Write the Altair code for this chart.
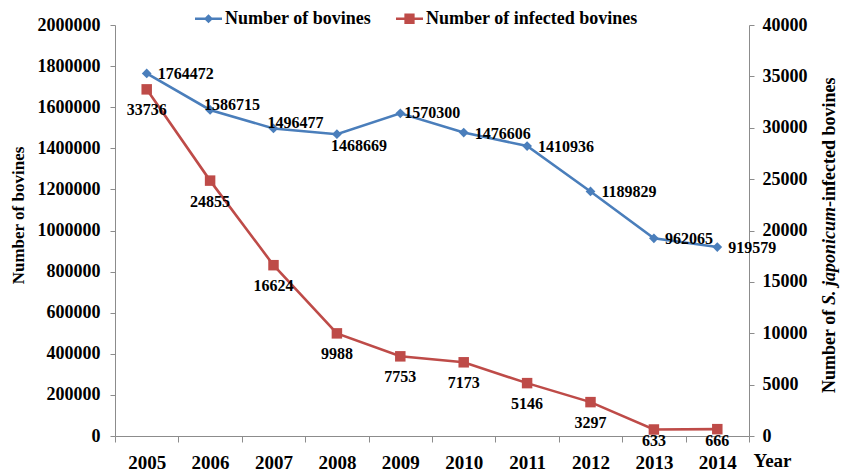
import altair as alt
import pandas as pd

years = [2005, 2006, 2007, 2008, 2009, 2010, 2011, 2012, 2013, 2014]
bovines = [1764472, 1586715, 1496477, 1468669, 1570300, 1476606, 1410936, 1189829, 962065, 919579]
infected = [33736, 24855, 16624, 9988, 7753, 7173, 5146, 3297, 633, 666]
series_names = ["Number of bovines", "Number of infected bovines"]
left_ticks = [0, 200000, 400000, 600000, 800000, 1000000, 1200000, 1400000, 1600000, 1800000, 2000000]
right_ticks = [0, 5000, 10000, 15000, 20000, 25000, 30000, 35000, 40000]

BLUE = "#4A7EBB"
RED = "#BE4B48"
GRAY = "#8C8C8C"
FONT = "Liberation Serif"

df = pd.DataFrame({"year": years, "bovines": bovines, "infected": infected})

x_enc = alt.X(
    "year:O",
    title="Year",
    bandPosition=0.5,
    scale=alt.Scale(type="band", paddingInner=0, paddingOuter=0),
    axis=alt.Axis(
        labelAngle=0, tickBand="extent", grid=False,
        domainColor=GRAY, tickColor=GRAY, tickSize=6, labelPadding=11,
        labelFont=FONT, labelFontSize=19, labelFontWeight="bold", labelColor="black",
        titleFont=FONT, titleFontSize=19, titleFontWeight="bold", titleColor="black",
        titleX=657, titleY=24, titleAlign="center", titleBaseline="middle",
    ),
)

yl = alt.Y(
    "bovines:Q",
    scale=alt.Scale(domain=[0, 2000000], nice=False),
    axis=alt.Axis(
        orient="left", values=left_ticks, format="d", grid=False,
        domainColor=GRAY, tickColor=GRAY, tickSize=5, labelPadding=10,
        labelFont=FONT, labelFontSize=18, labelFontWeight="bold", labelColor="black",
        title="Number of bovines", titleFont=FONT, titleFontSize=17, titleFontWeight="bold",
        titleColor="black", titleAngle=270, titleX=-97, titleY=190,
        titleAlign="center", titleBaseline="middle",
    ),
)

yr = alt.Y(
    "infected:Q",
    scale=alt.Scale(domain=[0, 40000], nice=False),
    axis=alt.Axis(
        orient="right", values=right_ticks, format="d", grid=False,
        domainColor=GRAY, tickColor=GRAY, tickSize=5, labelPadding=8,
        labelFont=FONT, labelFontSize=18, labelFontWeight="bold", labelColor="black",
        title=None,
    ),
)

lbase = alt.Chart(df).encode(x=x_enc, y=yl)
rbase = alt.Chart(df).encode(x=x_enc, y=yr)

text_style = dict(font=FONT, fontSize=16, fontWeight="bold", color="black", baseline="middle")


def blue_labels(sel, dx, dy):
    return lbase.transform_filter(
        alt.FieldOneOfPredicate(field="year", oneOf=sel)
    ).mark_text(align="left", dx=dx, dy=dy, **text_style).encode(text="bovines:Q")


left = alt.layer(
    lbase.mark_line(color=BLUE, strokeWidth=2.6),
    lbase.mark_point(shape="diamond", filled=True, size=95, color=BLUE, opacity=1),
    blue_labels([2005, 2010, 2011, 2012, 2013, 2014], 11, 1),
    blue_labels([2006, 2007], -6, -5),
    blue_labels([2009], 4, 0),
    blue_labels([2008], -6, 12),
)

right = alt.layer(
    rbase.mark_line(color=RED, strokeWidth=2.6),
    rbase.mark_point(shape="square", filled=True, size=110, color=RED, opacity=1),
    rbase.transform_filter(alt.datum.infected >= 1000).mark_text(
        align="center", dy=21, **text_style).encode(text="infected:Q"),
    rbase.transform_filter(alt.datum.infected < 1000).mark_text(
        align="center", dy=12, **text_style).encode(text="infected:Q"),
)

path_b = "M-1,-0.09L1,-0.09L1,0.09L-1,0.09Z M0,-0.34L0.34,0L0,0.34L-0.34,0Z"
path_r = "M-1,-0.09L1,-0.09L1,0.09L-1,0.09Z M-0.38,-0.38L0.38,-0.38L0.38,0.38L-0.38,0.38Z"

leg = alt.Legend(
    orient="none", legendX=80, legendY=-20, direction="horizontal", title=None,
    symbolSize=729, symbolOpacity=1, symbolStrokeWidth=0,
    labelFont=FONT, labelFontSize=18, labelFontWeight="bold", labelColor="black",
    labelOffset=3, columnPadding=24, padding=0, labelLimit=0,
)
leg_df = pd.DataFrame({"series": series_names})
legend_layer = alt.Chart(leg_df).mark_point(filled=True, opacity=0).encode(
    color=alt.Color("series:N", scale=alt.Scale(domain=series_names, range=[BLUE, RED]), legend=leg),
    shape=alt.Shape("series:N", scale=alt.Scale(domain=series_names, range=[path_b, path_r]), legend=leg),
)

one = pd.DataFrame({"k": [0]})
title_style = dict(font=FONT, fontSize=18, fontWeight="bold", color="black",
                   angle=270, align="left", baseline="middle")
title_layer = alt.layer(
    alt.Chart(one).mark_text(**title_style).encode(
        x=alt.value(715), y=alt.value(368), text=alt.value("Number of ")),
    alt.Chart(one).mark_text(fontStyle="italic", **title_style).encode(
        x=alt.value(715), y=alt.value(280), text=alt.value("S. japonicum")),
    alt.Chart(one).mark_text(**title_style).encode(
        x=alt.value(715), y=alt.value(182), text=alt.value("-infected bovines")),
)

chart = alt.layer(left, right, legend_layer, title_layer).resolve_scale(
    y="independent"
).properties(
    width=634, height=411,
    padding={"left": 115, "top": 25, "right": 92, "bottom": 35},
    autosize=alt.AutoSizeParams(type="none"),
).configure_view(stroke=None)

chart.save("out.html", embed_options={"renderer": "svg", "actions": False})
